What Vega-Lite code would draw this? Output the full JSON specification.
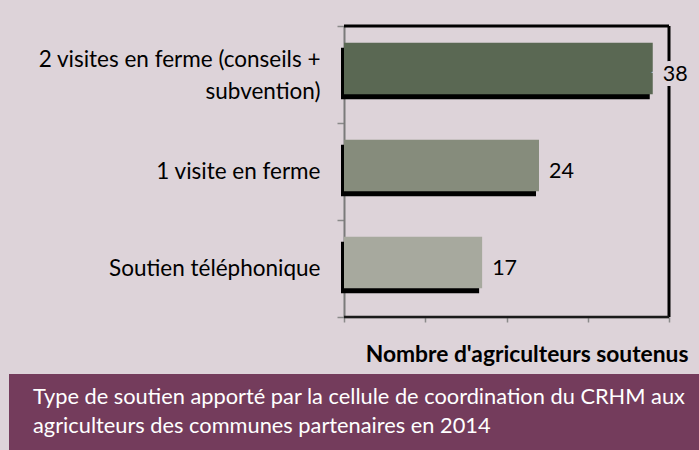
{
  "$schema": "https://vega.github.io/schema/vega-lite/v6.json",
  "background": "#ddd3d9",
  "padding": {"left": 9, "top": 15, "right": 0, "bottom": 0},
  "spacing": 8,
  "config": {"font": "Lato"},
  "vconcat": [
    {
      "width": 660,
      "height": 291,
      "view": {"stroke": null},
      "data": {"values": [
        {"type": "2 visites en ferme (conseils + subvention)", "n": 38},
        {"type": "1 visite en ferme", "n": 24},
        {"type": "Soutien téléphonique", "n": 17}
      ]},
      "encoding": {
        "y": {
          "field": "type", "type": "nominal", "sort": null,
          "scale": {"paddingInner": 0, "paddingOuter": 0},
          "axis": {
            "title": null, "offset": -335,
            "tickBand": "extent", "tickSize": 7, "tickColor": "#8a8a8a", "tickWidth": 1.5,
            "domainColor": "#7a7a7a", "domainWidth": 2,
            "labelFont": "Lato", "labelFontSize": 22.5, "labelColor": "#000000", "labelPadding": 17, "labelLimit": 0,
            "labelLineHeight": 32,
            "labelOffset": {"condition": {"test": "datum.value == '2 visites en ferme (conseils + subvention)'", "value": -15}, "value": 0},
            "labelExpr": "datum.value == '2 visites en ferme (conseils + subvention)' ? ['2 visites en ferme (conseils +', 'subvention)'] : datum.value",
            "encode": {"labels": {"update": {
              "align": {"signal": "datum.value == '2 visites en ferme (conseils + subvention)' ? 'center' : 'right'"},
              "dx": {"signal": "datum.value == '2 visites en ferme (conseils + subvention)' ? -141 : 0"}
            }}}
          }
        },
        "x": {
          "field": "n", "type": "quantitative",
          "scale": {"domain": [0, 40], "nice": false, "range": [335, 660]},
          "axis": {
            "title": "Nombre d'agriculteurs soutenus", "labels": false, "grid": false, "values": [0, 10, 20, 30, 40],
            "tickColor": "#8a8a8a", "tickSize": 5, "tickWidth": 1.5, "domainColor": "#8a8a8a", "domainWidth": 1.5,
            "titleFont": "Lato", "titleFontSize": 22.8, "titleFontWeight": "bold", "titleColor": "#000000",
            "titleX": 679, "titleY": 37, "titleAlign": "right", "titleBaseline": "middle", "titleAnchor": "end"
          }
        }
      },
      "layer": [
        {"mark": {"type": "bar", "color": "#000000", "height": {"band": 0.53}, "yOffset": -1, "xOffset": -3}},
        {
          "mark": {"type": "bar", "height": {"band": 0.53}, "yOffset": -6},
          "encoding": {"color": {"field": "type", "type": "nominal", "sort": null,
            "scale": {"domain": ["2 visites en ferme (conseils + subvention)", "1 visite en ferme", "Soutien téléphonique"],
                      "range": ["#5a6853", "#868c7c", "#a7a99e"]}, "legend": null}}
        },
        {
          "data": {"values": [{"edge": 40}]},
          "mark": {"type": "rule", "color": "#000000", "strokeWidth": 3},
          "encoding": {"x": {"field": "edge", "type": "quantitative"}, "y": null}
        },
        {
          "data": {"values": [{"a": 0, "b": 40, "cat": "2 visites en ferme (conseils + subvention)"}]},
          "mark": {"type": "rule", "color": "#000000", "strokeWidth": 3},
          "encoding": {
            "x": {"field": "a", "type": "quantitative"},
            "x2": {"field": "b"},
            "y": {"field": "cat", "type": "nominal", "bandPosition": 0}
          }
        },
        {
          "data": {"values": [{"a": 0, "b": 40, "cat": "Soutien téléphonique"}]},
          "mark": {"type": "rule", "color": "#1a1a1a", "strokeWidth": 2.5},
          "encoding": {
            "x": {"field": "a", "type": "quantitative"},
            "x2": {"field": "b"},
            "y": {"field": "cat", "type": "nominal", "bandPosition": 1}
          }
        },
        {
          "mark": {"type": "text", "align": "left", "baseline": "middle", "dx": 10, "fontSize": 21.5, "font": "Lato", "color": "#ddd3d9", "stroke": "#ddd3d9", "strokeWidth": 10},
          "encoding": {"text": {"field": "n", "type": "quantitative"}}
        },
        {
          "mark": {"type": "text", "align": "left", "baseline": "middle", "dx": 10, "fontSize": 21.5, "font": "Lato", "color": "#000000"},
          "encoding": {"text": {"field": "n", "type": "quantitative"}}
        }
      ]
    },
    {
      "width": 690,
      "height": 77,
      "view": {"fill": "#743c5c", "stroke": null},
      "data": {"values": [
        {"caption": ["Type de soutien apporté par la cellule de coordination du CRHM aux", "agriculteurs des communes partenaires  en 2014"]}
      ]},
      "mark": {"type": "text", "align": "left", "baseline": "middle", "dx": 24, "dy": -16, "color": "#ffffff", "font": "Lato", "fontSize": 21.8, "lineHeight": 29},
      "encoding": {
        "x": {"datum": 0, "type": "quantitative", "scale": {"domain": [0, 1]}, "axis": null},
        "text": {"field": "caption"}
      }
    }
  ]
}
